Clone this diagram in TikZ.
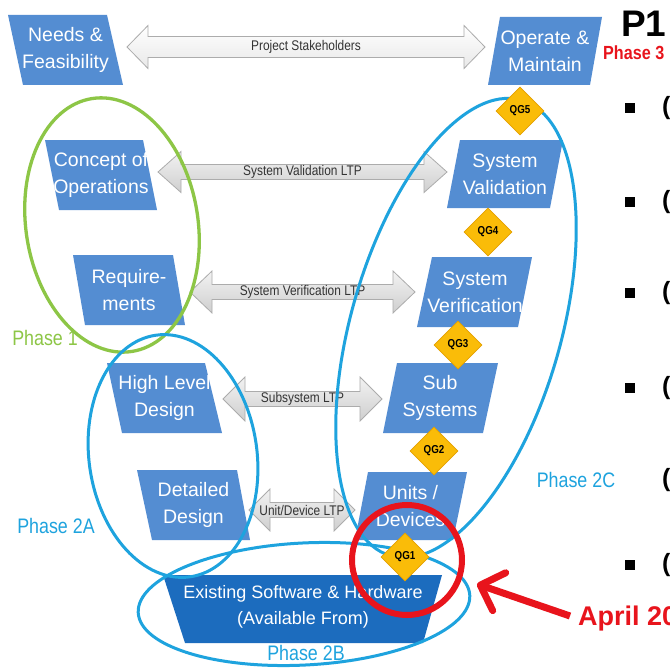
\documentclass[tikz,border=0pt]{standalone}
\usepackage{fontspec}
\setmainfont{Liberation Sans}
\newfontfamily\narrowfont{Liberation Sans}[FakeStretch=0.85]
\usetikzlibrary{shapes.geometric,calc,arrows.meta}
\definecolor{boxblue}{RGB}{84,141,210}
\definecolor{darkblue}{RGB}{28,108,190}
\definecolor{qgfill}{RGB}{250,188,8}
\definecolor{qgdraw}{RGB}{228,160,0}
\definecolor{phgreen}{RGB}{141,198,70}
\definecolor{phblue}{RGB}{30,163,222}
\definecolor{alertred}{RGB}{232,20,28}
\newcommand{\slantbox}[6]{%
  \fill[boxblue] #2 -- #3 -- #4 -- #5 -- cycle;
  \node[boxtext] (#1) at ($ #2!0.5!#4 $) {#6};
}
\newcommand{\fatarrow}[9]{%
  \path[#9] (#2,#4) -- ({#2+#7},{#4-#6}) -- ({#2+#7},{#4-#5}) -- ({#3-#7},{#4-#5})
    -- ({#3-#7},{#4-#6}) -- (#3,#4) -- ({#3-#7},{#4+#6}) -- ({#3-#7},{#4+#5})
    -- ({#2+#7},{#4+#5}) -- ({#2+#7},{#4+#6}) -- cycle;
  \node[ltptext] (#1) at ({(#2+#3)/2},#4) {#8};
}
\begin{document}
\begin{tikzpicture}[x=1pt,y=-1pt,
  boxtext/.style={text=white,font=\fontsize{19.5}{27}\selectfont,align=center,inner sep=0pt},
  ltp/.style={draw=gray!65,line width=0.8pt,top color=gray!10,bottom color=gray!38},
  ltplight/.style={draw=gray!65,line width=0.8pt,top color=white,bottom color=gray!18},
  ltptext/.style={font=\narrowfont\fontsize{14}{14}\selectfont,text=black!80,inner sep=0pt},
  qg/.style={diamond,fill=qgfill,draw=qgdraw,line width=0.6pt,minimum width=48pt,minimum height=48pt,inner sep=0pt,font=\narrowfont\bfseries\fontsize{11.5}{11.5}\selectfont},
  phasetext/.style={font=\narrowfont\fontsize{21}{21}\selectfont,inner sep=0pt},
  ring/.style={line width=3pt},
  bullet/.style={fill=black,minimum size=10pt,inner sep=0pt},
  paren/.style={font=\bfseries\fontsize{25}{25}\selectfont,anchor=west,inner sep=0pt}
]
\useasboundingbox (0,0) rectangle (670,669);
\fill[white] (0,0) rectangle (670,669);
\clip (0,0) rectangle (670,669);

% fat double arrows
\fatarrow{lps}{127}{485}{47}{10.5}{21.5}{21}{Project Stakeholders}{ltplight}
\fatarrow{lsval}{158}{447}{172}{7.5}{20.5}{23}{System Validation LTP}{ltp}
\fatarrow{lsver}{190}{415}{292}{7.5}{21}{22}{System Verification LTP}{ltp}
\fatarrow{lsub}{223}{382}{399}{7.5}{22}{22}{Subsystem LTP}{ltp}
\fatarrow{lunit}{249}{355}{510}{7.5}{21}{21}{Unit/Device LTP}{ltp}

% boxes, left branch
\slantbox{needs}{(8,15)}{(107,15)}{(123,85)}{(23,85)}{Needs \&\\Feasibility}
\slantbox{conops}{(45,140)}{(143,140)}{(157,210)}{(59,210)}{Concept of\\Operations}
\slantbox{req}{(73,255)}{(173,255)}{(185,325)}{(85,325)}{Require-\\ments}
\slantbox{hld}{(107,363)}{(205,363)}{(222,433)}{(122,433)}{High Level\\Design}
\slantbox{dd}{(137,470)}{(237,470)}{(250,540)}{(152,540)}{Detailed\\Design}
% boxes, right branch
\slantbox{om}{(500,17)}{(602,17)}{(590,85)}{(488,85)}{Operate \&\\Maintain}
\slantbox{sval}{(460,140)}{(563,140)}{(550,208)}{(447,208)}{System\\Validation}
\slantbox{sver}{(432,257)}{(532,257)}{(518,327)}{(417,327)}{System\\Verification}
\slantbox{subs}{(397,363)}{(498,363)}{(483,433)}{(383,433)}{Sub\\Systems}
\slantbox{units}{(368,472)}{(467,472)}{(453,540)}{(355,540)}{Units /\\Devices}
% bottom box
\fill[darkblue] (163,575) -- (442,575) -- (423,643) -- (185,643) -- cycle;
\node[boxtext,font=\fontsize{18}{26}\selectfont] (esh) at (303,607) {Existing Software \& Hardware\\(Available From)};

% phase ellipses
\draw[ring,phgreen,line width=3.3pt,rotate around={9:(112,225)}] (112,225) ellipse [x radius=86pt,y radius=128pt];
\draw[ring,phblue,rotate around={8:(173,456)}] (173,456) ellipse [x radius=84pt,y radius=122pt];
\draw[ring,phblue,rotate around={3:(304,604)}] (304,604) ellipse [x radius=166pt,y radius=61pt];
\draw[ring,phblue,rotate around={-16:(456,328)}] (456,328) ellipse [x radius=105pt,y radius=237pt];

% quality gates
\node[qg] (qg5) at (520,111) {QG5};
\node[qg] (qg4) at (488,232) {QG4};
\node[qg] (qg3) at (458,345) {QG3};
\node[qg] (qg2) at (434,451) {QG2};
\node[qg] (qg1) at (405,557) {QG1};

% phase labels
\node[phasetext,text=phgreen] (ph1) at (45,338) {Phase 1};
\node[phasetext,text=phblue] (ph2a) at (56,526) {Phase 2A};
\node[phasetext,text=phblue] (ph2b) at (306,653) {Phase 2B};
\node[phasetext,text=phblue] (ph2c) at (576,480) {Phase 2C};

% red highlight
\node[circle,draw=alertred,line width=6pt,minimum size=110pt,inner sep=0pt] (redring) at (407,560) {};
\coordinate (redtail) at (570,616);
\draw[alertred,line width=7pt,shorten >=16pt,-{Straight Barb[length=20pt,width=40pt,round]}] (redtail) -- (redring);
\node[anchor=base west,inner sep=0pt,text=alertred,font=\bfseries\fontsize{27}{27}\selectfont] (april) at (578,625) {April 20};

% right-hand slide text (cut off by the frame)
\node[anchor=base west,inner sep=0pt,font=\bfseries\fontsize{37}{37}\selectfont] (p1) at (621,37) {P1};
\node[anchor=base west,inner sep=0pt,text=alertred,font=\narrowfont\bfseries\fontsize{19}{19}\selectfont] (ph3) at (603,60) {Phase 3};
\node[bullet] (b1) at (630,108) {};
\node[bullet] (b2) at (630,202) {};
\node[bullet] (b3) at (630,293) {};
\node[bullet] (b4) at (630,388) {};
\node[bullet] (b6) at (630,565) {};
\node[paren] (t1) at (662,108) {(};
\node[paren] (t2) at (662,202) {(};
\node[paren] (t3) at (662,293) {(};
\node[paren] (t4) at (662,388) {(};
\node[paren] (t5) at (662,480) {(};
\node[paren] (t6) at (662,565) {(};
\end{tikzpicture}
\end{document}
